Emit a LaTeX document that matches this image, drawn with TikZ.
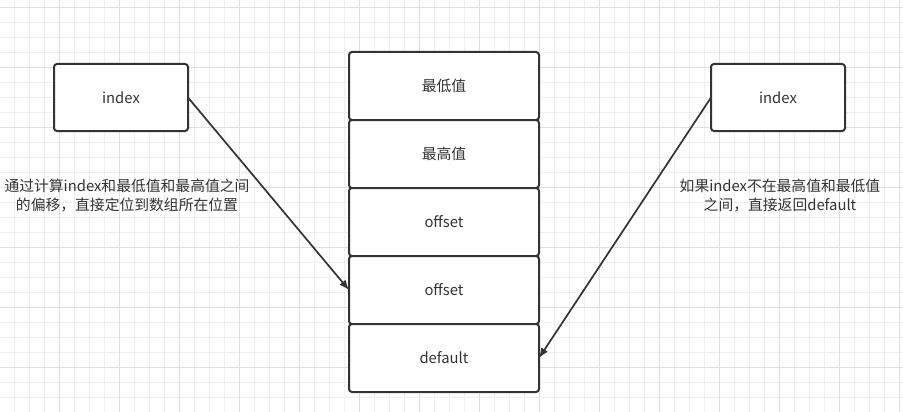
\documentclass[tikz,border=0pt]{standalone}
\usepackage{fontspec}
\setmainfont{Noto Sans CJK SC}
\usetikzlibrary{positioning,arrows.meta}
\definecolor{linegray}{HTML}{333333}
\definecolor{gridminor}{HTML}{EFEFEF}
\definecolor{gridmajor}{HTML}{E0E0E0}
\tikzset{
  cell/.style={draw=linegray, line width=2pt, rounded corners=3pt, fill=white,
    minimum width=190pt, minimum height=68pt, outer sep=0pt, text=linegray,
    font=\fontsize{14.8}{18}\selectfont},
  keybox/.style={cell, minimum width=134pt, minimum height=67pt},
  note/.style={text=linegray, align=center, font=\fontsize{14.8}{19}\selectfont},
  link/.style={-{Latex[length=10pt,width=8pt]}, draw=linegray, line width=1.7pt}
}

\begin{document}
\begin{tikzpicture}[x=1pt,y=-1pt]
  \useasboundingbox[fill=white] (0,0) rectangle (903,412);
  % background grid
  \foreach \gx in {14.5,29.5,...,903} \draw[gridminor,line width=0.8pt] (\gx,0) -- (\gx,412);
  \foreach \gy in {7.5,22.5,...,412} \draw[gridminor,line width=0.8pt] (0,\gy) -- (903,\gy);
  \foreach \gx in {59.5,119.5,...,903} \draw[gridmajor,line width=0.8pt] (\gx,0) -- (\gx,412);
  \foreach \gy in {7.5,67.5,...,412} \draw[gridmajor,line width=0.8pt] (0,\gy) -- (903,\gy);

  \node[keybox] (lindex) at (121,97.5) {index};
  \node[keybox] (rindex) at (778,97.5) {index};

  % the array
  \node[cell] (low) at (444,86) {最低值};
  \node[cell,below=0pt of low] (high) {最高值};
  \node[cell,below=0pt of high] (off1) {offset};
  \node[cell,below=0pt of off1] (off2) {offset};
  \node[cell,below=0pt of off2] (dflt) {default};

  \node[note] (lnote) at (127,196) {通过计算index和最低值和最高值之间\\的偏移，直接定位到数组所在位置};
  \node[note] (rnote) at (780,196) {如果index不在最高值和最低值\\之间，直接返回default};

  \draw[link] (lindex.east) -- (off2.west);
  \draw[link] (rindex.west) -- (dflt.east);
\end{tikzpicture}
\end{document}
